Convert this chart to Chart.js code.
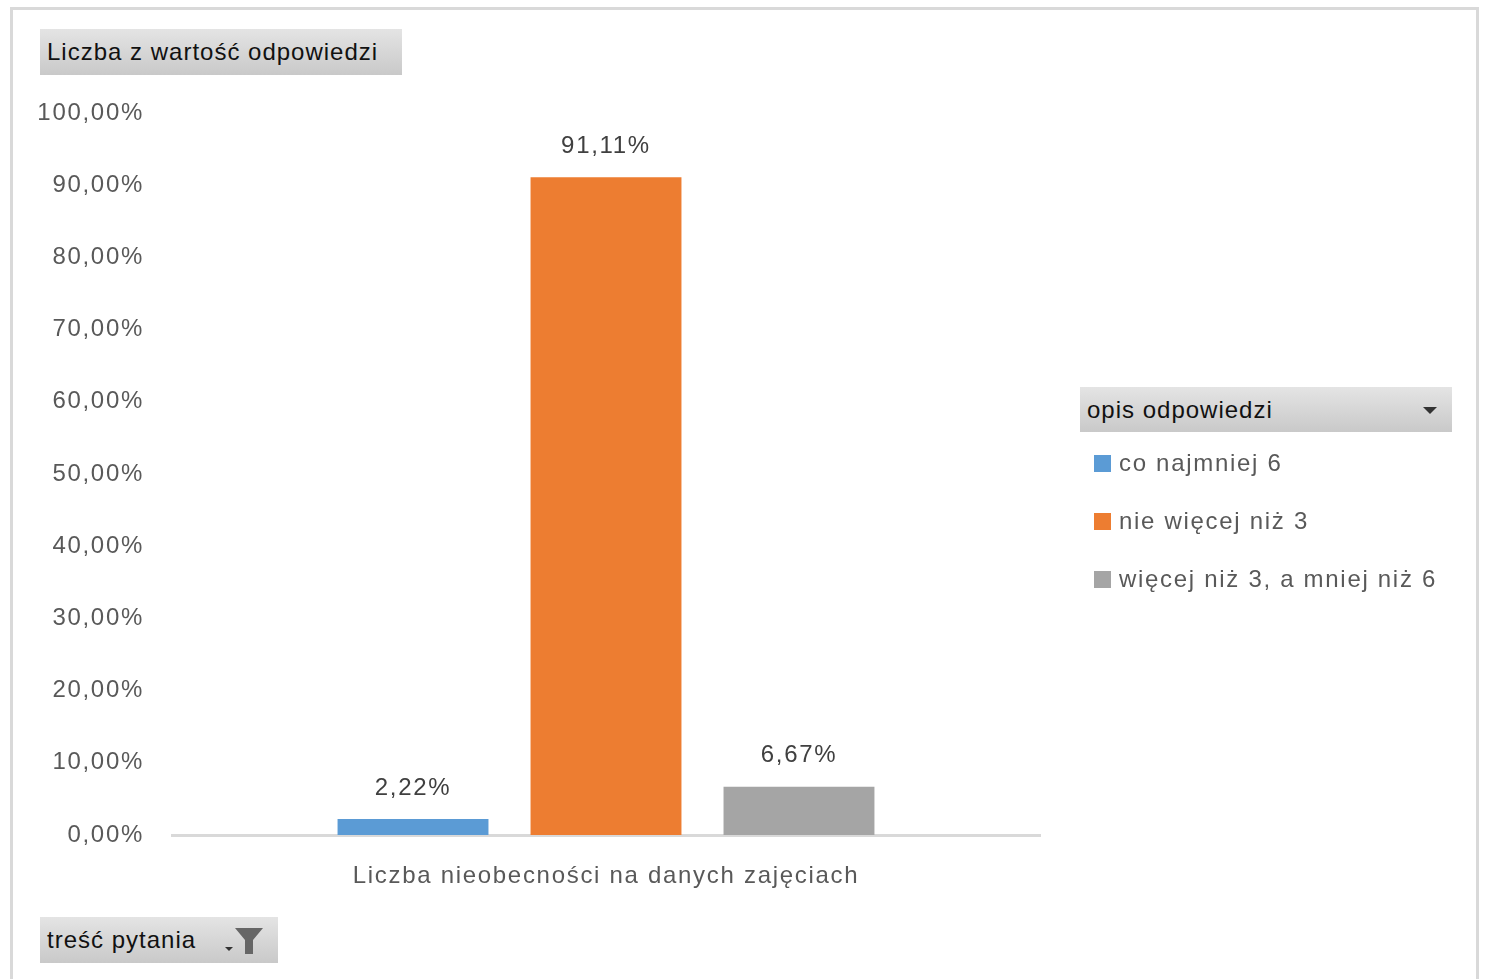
<!DOCTYPE html>
<html>
<head>
<meta charset="utf-8">
<script src="https://cdn.jsdelivr.net/npm/chart.js@4"></script>
<style>
  html, body { margin: 0; padding: 0; background: #fff; }
  body { width: 1489px; height: 979px; position: relative; overflow: hidden;
         font-family: "Liberation Sans", Arial, sans-serif; }
  #frame { position: absolute; left: 10px; top: 7px; width: 1469px; height: 990px;
           border: 3px solid #d9d9d9; box-sizing: border-box; }
  #wrap { position: absolute; left: 0; top: 0; width: 1489px; height: 979px; }
  .btn { position: absolute; height: 46px; line-height: 46px; font-size: 24px; color: #111; letter-spacing: 1px;
         background: linear-gradient(#e4e4e4, #c9c9c9); padding-left: 7px; box-sizing: border-box; }
  .legend-item { position: absolute; left: 1094px; font-size: 24px; color: #595959; height: 30px; line-height: 30px; letter-spacing: 1.7px; }
  .legend-item span.sw { display: inline-block; width: 17px; height: 17px; margin-right: 8px; vertical-align: -1px; }
</style>
</head>
<body>
<div id="frame"></div>
<div id="wrap"><canvas id="c" width="1489" height="979"></canvas></div>
<div class="btn" style="left:40px;top:29px;width:362px;">Liczba z wartość odpowiedzi</div>
<div class="btn" style="left:40px;top:917px;width:238px;">treść pytania
  <svg style="position:absolute;left:183px;top:9px" width="50" height="30" viewBox="0 0 50 30">
    <polygon points="2,21 10,21 6,25" fill="#333"/>
    <polygon points="12,2 40,2 30,14 30,28 22,28 22,14" fill="#666"/>
  </svg>
</div>
<div class="btn" style="left:1080px;top:387px;width:372px;height:45px;line-height:45px;">opis odpowiedzi
  <svg style="position:absolute;left:342px;top:19px" width="16" height="10"><polygon points="1,1 15,1 8,8" fill="#333"/></svg>
</div>
<div id="legend"></div>
<script>
var categories = ["Liczba nieobecności na danych zajęciach"];
var seriesNames = ["co najmniej 6", "nie więcej niż 3", "więcej niż 3, a mniej niż 6"];
var seriesValues = [[2.22], [91.11], [6.67]];
var seriesColors = ["#5b9bd5", "#ed7d31", "#a5a5a5"];
var yTicks = [0, 10, 20, 30, 40, 50, 60, 70, 80, 90, 100];

function pct(v) {
  return v.toFixed(2).replace(".", ",") + "%";
}

// legend built from the series arrays
var legendEl = document.getElementById("legend");
seriesNames.forEach(function (name, i) {
  var d = document.createElement("div");
  d.className = "legend-item";
  d.style.top = (448 + i * 58) + "px";
  d.innerHTML = '<span class="sw" style="background:' + seriesColors[i] + '"></span>' + name;
  legendEl.appendChild(d);
});

// wider letter spacing, closer to the original font
var spacing = {
  id: "spacing",
  beforeDraw: function (chart) { chart.ctx.letterSpacing = "1.7px"; }
};

var valueLabels = {
  id: "valueLabels",
  afterDatasetsDraw: function (chart) {
    var ctx = chart.ctx;
    ctx.save();
    ctx.font = "24px 'Liberation Sans', Arial, sans-serif";
    ctx.fillStyle = "#404040";
    ctx.textAlign = "center";
    ctx.textBaseline = "middle";
    chart.data.datasets.forEach(function (ds, i) {
      chart.getDatasetMeta(i).data.forEach(function (bar, j) {
        ctx.fillText(pct(ds.data[j]), bar.x, bar.y - 31);
      });
    });
    ctx.restore();
  }
};

new Chart(document.getElementById("c"), {
  type: "bar",
  data: {
    labels: categories,
    datasets: seriesNames.map(function (name, i) {
      return {
        label: name,
        data: seriesValues[i],
        backgroundColor: seriesColors[i],
        categoryPercentage: 0.667,
        barPercentage: 0.782
      };
    })
  },
  options: {
    responsive: false,
    animation: false,
    layout: { padding: { left: 0, top: 113, right: 449, bottom: 0 } },
    plugins: { legend: { display: false }, tooltip: { enabled: false } },
    scales: {
      x: {
        grid: { display: false, drawTicks: false },
        border: { display: true, color: "#d9d9d9", width: 3 },
        ticks: { color: "#595959", padding: 27, font: { size: 24, family: "'Liberation Sans', Arial, sans-serif" } },
        afterFit: function (s) { s.height = 144; }
      },
      y: {
        min: 0, max: 100,
        grid: { display: false, drawTicks: false },
        border: { display: false },
        afterBuildTicks: function (s) { s.ticks = yTicks.map(function (v) { return { value: v }; }); },
        afterFit: function (s) { s.width = 172; },
        ticks: {
          color: "#595959", padding: 28,
          font: { size: 24, family: "'Liberation Sans', Arial, sans-serif" },
          callback: function (v) { return pct(v); }
        }
      }
    }
  },
  plugins: [spacing, valueLabels]
});
</script>
</body>
</html>
